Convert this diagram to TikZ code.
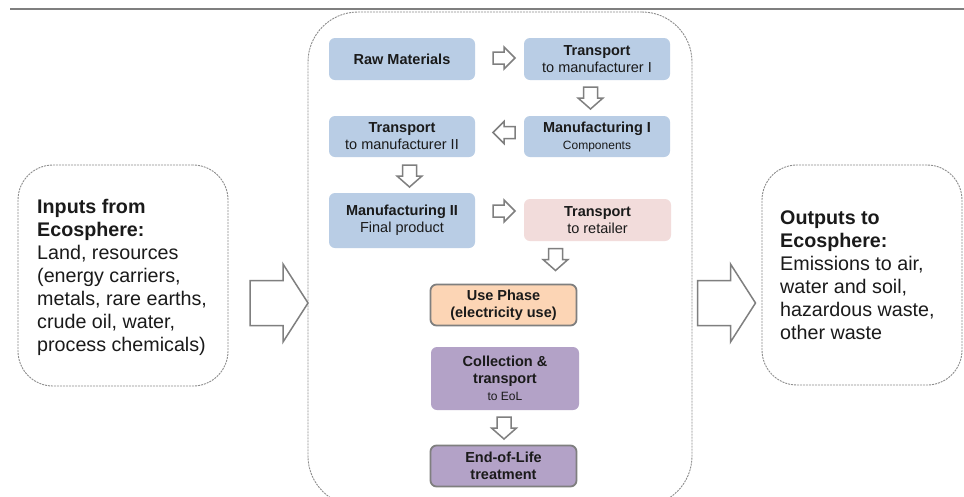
\documentclass[tikz,border=0pt]{standalone}
\usepackage{fontspec}
\setmainfont{Liberation Sans}
\definecolor{boxblue}{HTML}{B9CDE5}
\definecolor{boxpink}{HTML}{F2DCDB}
\definecolor{boxorange}{HTML}{FCD5B5}
\definecolor{boxpurple}{HTML}{B3A2C7}
\definecolor{edgegray}{HTML}{7F7F7F}
\definecolor{dashgray}{HTML}{8C8C8C}
\definecolor{txt}{HTML}{1A1A1A}
\newcommand{\bigtxt}{\fontsize{14.5}{17}\selectfont}
\newcommand{\smalltxt}{\fontsize{12}{16}\selectfont}
\tikzset{
  stagebox/.style={rounded corners=6pt, minimum width=146pt, minimum height=42pt,
    align=center, inner sep=0pt, font=\bigtxt, text=txt},
  bluebox/.style={stagebox, fill=boxblue},
  pinkbox/.style={stagebox, fill=boxpink},
  orangebox/.style={stagebox, fill=boxorange, draw=edgegray, line width=1.8pt},
  purplebox/.style={stagebox, fill=boxpurple},
  purpleedge/.style={purplebox, draw=edgegray, line width=1.8pt},
  dashbox/.style={draw=dashgray, line width=0.9pt, dash pattern=on 2pt off 1pt},
  sidetext/.style={anchor=west, align=left, font=\fontsize{19.7}{23}\selectfont, text=txt, inner sep=0pt},
  arrowline/.style={draw=edgegray, fill=white, line width=1.5pt, line join=miter},
  harrow/.pic={\path[arrowline] (-11,-6) -- (0,-6) -- (0,-11) -- (11,0) -- (0,11) -- (0,6) -- (-11,6) -- cycle;},
  varrow/.pic={\path[arrowline] (-11,-7) -- (0,-7) -- (0,-12.5) -- (11,0) -- (0,12.5) -- (0,7) -- (-11,7) -- cycle;},
  bigarrow/.pic={\path[arrowline] (-29,-22.5) -- (4,-22.5) -- (4,-39) -- (29,0) -- (4,39) -- (4,22.5) -- (-29,22.5) -- cycle;},
}
\begin{document}
\begin{tikzpicture}[x=1pt, y=-1pt]
\useasboundingbox (0,0) rectangle (964,496);
\fill[white] (0,0) rectangle (964,496);
% top rule
\draw[edgegray, line width=2pt] (10,9) -- (964,9);
% containers
\node[dashbox, rounded corners=50pt, minimum width=384pt, minimum height=494pt] (life) at (500,259) {};
\node[dashbox, rounded corners=35pt, minimum width=210pt, minimum height=221pt] (inbox) at (123,275.5) {};
\node[dashbox, rounded corners=35pt, minimum width=200pt, minimum height=220pt] (outbox) at (862,275) {};
% side texts
\node[sidetext] (intext) at (37,277)
  {\textbf{Inputs from}\\\textbf{Ecosphere:}\\Land, resources\\(energy carriers,\\metals, rare earths,\\crude oil, water,\\process chemicals)};
\node[sidetext] (outtext) at (780,275)
  {\textbf{Outputs to}\\\textbf{Ecosphere:}\\Emissions to air,\\water and soil,\\hazardous waste,\\other waste};
% big arrows
\pic (inarrow) at (279,303) {bigarrow};
\pic (outarrow) at (726.5,303) {bigarrow};
% stages
\node[bluebox] (raw) at (402,59) {\textbf{Raw Materials}};
\node[bluebox] (t1) at (597,59) {\textbf{Transport}\\to manufacturer I};
\node[bluebox, minimum height=41pt] (m1) at (597,136.5) {\textbf{Manufacturing I}\\{\smalltxt Components}};
\node[bluebox, minimum height=41pt] (t2) at (402,136.5) {\textbf{Transport}\\to manufacturer II};
\node[bluebox, minimum height=55pt] (m2) at (402,220.5) {\textbf{Manufacturing II}\\Final product};
\node[pinkbox, minimum width=147pt] (tr) at (597.5,220) {\textbf{Transport}\\to retailer};
\node[orangebox, minimum width=146pt, minimum height=41pt] (use) at (503.5,305) {\textbf{Use Phase}\\\textbf{(electricity use)}};
\node[purplebox, minimum width=148pt, minimum height=63pt] (col) at (505,378.5) {\textbf{Collection \&}\\\textbf{transport}\\{\smalltxt to EoL}};
\node[purpleedge, minimum width=146pt, minimum height=41pt] (eol) at (503.5,466) {\textbf{End-of-Life}\\\textbf{treatment}};
% small arrows
\pic (a1) at (504,58) {harrow};
\pic[rotate=-90] (a2) at (590.5,98) {varrow};
\pic[rotate=180] (a3) at (504,132.5) {harrow};
\pic[rotate=-90] (a4) at (409.5,176) {varrow};
\pic (a5) at (504,211) {harrow};
\pic[rotate=-90] (a6) at (555.5,259.5) {varrow};
\pic[rotate=-90] (a7) at (504,428) {varrow};
\end{tikzpicture}
\end{document}
